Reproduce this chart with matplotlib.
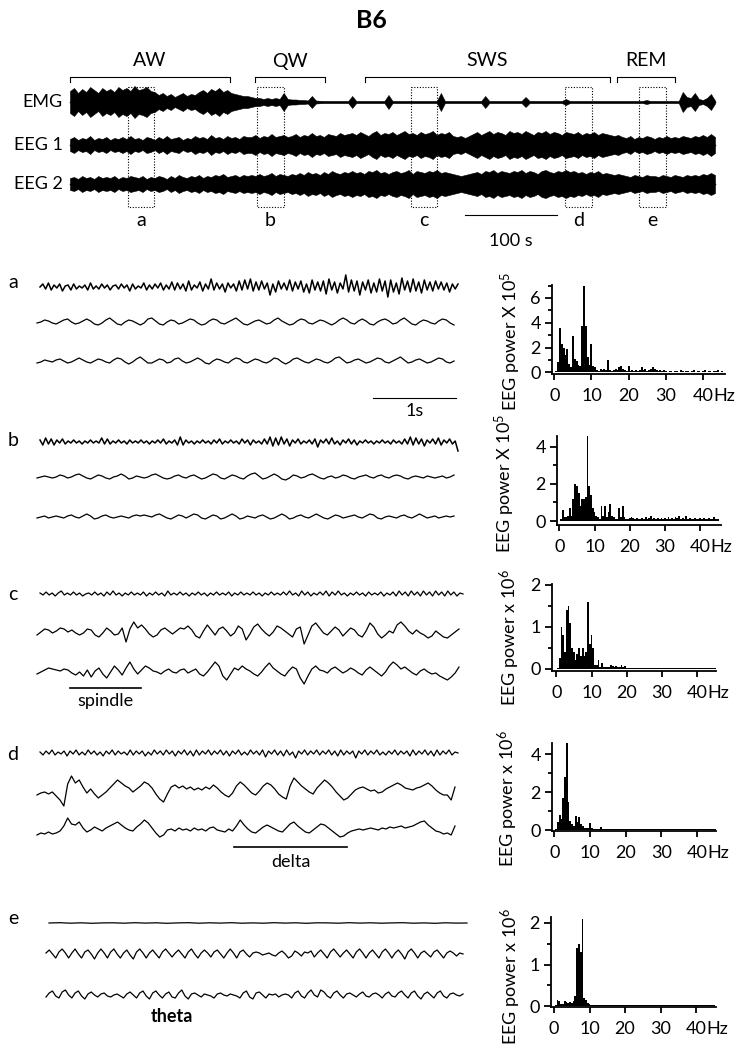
import numpy as np
import matplotlib
matplotlib.use("Agg")
import matplotlib.pyplot as plt
from matplotlib.patches import Rectangle

plt.rcParams['font.family'] = ['Lato', 'DejaVu Sans']
plt.rcParams['mathtext.fontset'] = 'custom'
plt.rcParams['mathtext.rm'] = 'Lato'
plt.rcParams['mathtext.it'] = 'Lato:italic'
plt.rcParams['mathtext.bf'] = 'Lato:bold'

# ---------------- data ----------------
TITLE = "B6"
STATE_LABELS = ["AW", "QW", "SWS", "REM"]
STATE_START_S = [0.0, 200.8, 320.2, 593.7]
STATE_END_S = [173.6, 276.8, 586.1, 656.6]
EPOCH_LABELS = ["a", "b", "c", "d", "e"]
EPOCH_START_S = [62.9, 203.0, 370.1, 537.2, 617.5]
EPOCH_END_S = [91.2, 232.3, 398.3, 566.5, 646.8]
CHANNELS = ["EMG", "EEG 1", "EEG 2"]
OVERVIEW_DURATION_S = 700.0

# overview envelopes (half amplitude, px-scaled units), one value every ~4.4 s
ov_emg = [11,14,9,13,10,15,12,9,14,11,
          13,10,15,12,14,11,16,12,13,15,11,10,
          7,9,6,8,5,7,9,6,8,7,
          10,12,9,13,11,14,10,12,9,
          8,7,6,6,5,4,
          4,3,4,3,4,3,9,
          3,2.5,2.5,2,2,1.5,
          6,
          1.5,1.2,1,1,1,1,1,1,1,
          6,
          1,1,1,1,1,1,1,1,
          7,
          1,1,1,1,1,1,1,1,1,1,1,1,
          9,
          1,1,1,1,1,1,1,1,1,1,
          6,
          1,1,1,1,1,1,1,1,1,
          5,
          1,1,1,1,1,1,1,1,1,
          3,
          1,1,1,1,1,1,1,1,1,1,1,1,1,1,1,1,1,1,1,
          2,
          1,1,1,1,1,1,1,1,
          10,5,4,9,3,2,4,8,1.5]
ov_eeg1 = [6,8,5,7,6,9,5,7,6,8,
           5,7,6,8,6,9,6,7,5,8,
           7,5,8,6,9,6,7,8,5,7,
           6,9,7,8,6,10,7,8,6,9,
           7,8,6,9,8,
           8,10,7,9,8,11,8,9,10,8,
           9,11,8,10,9,12,9,10,8,11,10,9,12,10,11,
           12,10,13,11,9,12,14,10,12,11,
           13,10,12,14,11,12,10,13,11,12,14,10,12,11,13,
           9,8,9,7,9,
           11,13,10,12,14,11,13,12,10,14,
           12,13,11,14,12,10,13,12,14,11,13,12,10,13,12,
           11,13,10,12,11,13,10,12,11,10,9,10,
           8,7,9,6,8,7,9,8,6,8,7,9,7,8,
           7,9,8,7,9,8,10,8,11,8]
ov_eeg2 = [6,7,5,8,6,7,5,8,6,7,
           6,8,5,7,6,8,7,6,8,5,
           7,6,8,7,5,8,6,9,7,6,
           8,7,9,6,8,7,9,8,10,7,
           8,9,7,9,8,
           9,8,10,8,9,11,8,10,9,8,
           10,9,11,9,12,10,11,9,12,10,13,11,10,12,11,
           13,11,12,10,13,12,14,11,12,10,
           12,13,11,12,14,10,13,12,11,13,12,14,11,12,11,
           10,9,8,9,10,
           11,12,10,13,12,14,11,13,12,11,
           13,12,14,11,13,12,10,13,14,12,11,13,12,14,12,
           13,11,12,10,12,11,13,10,11,10,9,10,
           9,8,7,9,8,7,9,8,8,7,9,8,7,9,
           8,7,9,8,9,8,10,9,11,9]

# detail traces (5 s epochs)
a_emg = [0,3,-2,4,-3,2,-1,3,-4,1, 2,-3,3,-2,1,-1,2,-3,4,-2,
         1,-2,3,-1,2,-3,1,2,-2,3, -1,2,-4,3,-2,1,-1,4,-3,2,
         -2,3,-1,4,-3,2,-2,5,-3,4, -2,3,-4,6,-3,2,-1,5,-4,3,
         -2,8,-3,4,-2,3,-5,4,-1,3, -4,6,-3,7,-2,8,-4,5,-3,6,
         -2,4,-8,3,-5,6,-2,4,-3,7, -4,5,-2,6,-5,3,-6,7,-3,5,
         -4,6,-7,8,-3,5,-6,4,-2,12, -5,7,-4,6,-8,5,-3,7,-6,4,
         -5,8,-4,6,-10,7,-5,4,-7,9, -3,6,-5,8,-4,5,-6,7,-3,5,
         -4,6,-2,5,-3,4,-5,3,-2,3]
a_eeg1 = [-1,0,2,1,-1,-2,0,2,3,0, -2,-1,1,3,1,-2,-3,-1,2,4, 1,-2,-3,0,2,1,-1,-3,-1,3,
          4,1,-2,-3,0,2,1,-2,-1,1, 3,2,-1,-3,-2,1,3,2,-1,-2, 0,2,4,1,-2,-3,-1,1,2,0,
          -2,-1,2,4,1,-1,-3,-2,1,3, 2,-1,-2,0,2,1,-1,-3,-1,2, 4,2,-1,-2,1,3,1,-2,-3,0,
          2,3,1,-2,-1,2,4,1,-2,-3, 0,2,1,-1,-2,1,3,2,-1,-3]
a_eeg2 = [-2,-1,1,0,-1,1,2,0,-2,-1, 1,3,1,-1,-2,0,2,1,-1,-2, 1,3,2,-1,-3,-1,2,4,1,-2,
          -2,0,2,1,-2,-1,2,3,0,-2, -1,1,3,1,-2,-3,0,2,1,-1, -2,1,3,2,-1,-2,0,2,1,-1,
          -2,0,3,2,-1,-3,-1,2,3,1, -1,-2,0,2,1,-1,-2,0,3,4, 1,-2,-1,1,2,0,-2,-1,1,3,
          2,-1,-2,0,2,4,1,-2,-1,1, 2,0,-2,-1,1,3,2,-1,-2,0]
b_emg = [2,-3,4,-2,3,-3,2,-1,3,-2, 1,-1,2,-1,1,-2,1,-1,2,-1,
         1,-1,4,-2,3,-2,1,-1,2,-1, 1,-2,2,-1,1,-1,2,-1,1,-2,
         1,-1,2,-1,3,-2,1,-1,2,-3, 5,-3,2,-1,1,-2,1,-1,2,-1,
         1,-2,2,-1,3,-2,1,-1,2,-1, 1,-2,3,-1,2,-3,2,-1,1,-2,
         3,-2,5,-4,4,-3,5,-2,3,-4, 2,-1,3,-2,1,-1,2,-2,3,-5,
         2,-1,3,-2,4,-2,1,-3,2,-1, 3,-2,2,-3,1,-1,2,-1,1,-2,
         1,-1,2,-1,1,-2,2,-1,1,-2, 3,-2,5,-3,4,-2,3,-4,2,-1,
         3,-2,4,-3,2,-1,3,-2,1,-9]
b_eeg1 = [-1,0,1,0,-1,0,2,1,-1,0, 2,3,1,-1,-2,0,2,1,-1,-2, 0,1,3,1,-2,-1,1,0,-1,0,
          2,3,1,-1,-2,-1,1,2,0,-1, 1,2,0,-2,-1,1,3,2,-1,-2, 0,2,1,-1,-2,1,3,4,1,-2,
          -1,1,3,1,-2,-3,-1,2,1,-1, 0,2,3,1,-1,-2,0,1,-1,0, 2,1,-1,-2,0,1,2,0,-1,1,
          2,0,-1,1,2,1,-1,-2,0,1, 0,-1,1,0,-1,0,1,-1,0,2]
b_eeg2 = [-1,0,1,-1,0,1,0,-1,1,2, 0,-1,1,3,1,-2,-1,1,2,0, -1,0,1,0,-1,1,2,1,2,1,
          0,2,3,1,-1,-2,0,2,1,-1, 1,3,2,-1,-2,0,2,1,-2,-1, 1,3,1,-2,-1,1,0,-1,1,2,
          0,-2,-1,1,3,1,-2,-1,1,2, 0,-1,1,3,1,-1,-2,0,2,1, -1,0,1,2,0,-1,1,3,2,-1,
          -2,0,1,0,-1,1,2,0,-1,1, 3,1,-1,0,1,-1,0,1,0,1]
c_emg = [1,-1,2,-1,1,-2,1,3,-1,1, -1,2,-1,1,-2,0,1,-1,2,-1, 1,-2,2,-1,3,-1,1,-2,1,-1,
         2,-1,1,-1,2,-2,1,-1,2,-1, 1,-2,3,-1,1,-1,2,-1,1,-2, 1,-1,2,-1,1,-2,1,-1,2,-1,
         1,-1,2,-2,1,-1,2,-1,1,-1, 2,-1,1,-2,1,-1,2,-1,1,-1, 2,-1,3,-1,1,-2,3,-1,2,-2,
         1,-1,2,-1,3,-2,2,-1,3,-1, 1,-2,1,-1,2,-1,1,-2,2,-1, 1,-1,2,-2,1,-1,2,-2,3,-1,
         2,-2,3,-1,2,-2,3,-1,2,-2, 3,-1,2,-2,3,-1,2,-2,1,0]
c_eeg1 = [-3,0,3,2,-1,1,4,3,0,2,-1,
          -3,-1,3,2,-3,-5,-1,4,1,-3,-2,4,
          -10,3,10,4,
          7,3,-2,-5,-3,2,4,1,-2,1,4,3,6,2,
          -4,-6,1,7,2,-3,3,5,1,-4,-1,6,3,-8,-2,
          5,8,3,-1,-4,0,6,4,1,-2,-5,3,5,-12,-3,
          6,9,4,-1,-3,1,5,2,-4,0,4,2,-3,-5,1,
          9,5,-2,-6,-3,1,-1,7,10,6,1,-2,2,-1,-3,
          -6,-4,1,-2,-5,-6,-3,0,3]
c_eeg2 = [-2,0,2,4,3,2,1,3,2,-1,-3,
          0,-4,2,-5,1,4,-2,-6,0,6,2,-3,
          4,10,3,-2,
          2,6,4,1,0,-2,1,3,0,-1,2,3,-1,1,
          3,-2,-4,0,5,10,6,-4,-8,-2,4,2,6,3,1,
          -2,-4,0,5,9,4,1,-2,-4,1,5,3,-6,-12,-4,
          3,6,2,1,-1,3,5,2,-1,1,4,2,-1,-3,2,
          5,2,-1,-4,0,6,10,7,3,5,2,-1,-3,1,3,
          0,-2,-1,-4,-6,-8,-5,-1,5]
d_emg = [1,-2,2,-1,3,-2,1,-1,2,-3, 2,-1,3,-2,1,-2,3,-1,2,-2, 1,-3,2,-1,3,-2,2,-1,1,-2,
         3,-2,2,-1,2,-3,1,-2,3,-1, 2,-2,3,-1,2,-3,2,-1,3,-2, 2,-3,3,-2,2,-1,3,-2,2,-1,
         3,-2,2,-3,2,-1,3,-2,1,-2, 3,-1,2,-2,3,-4,2,-1,3,-2, 2,-3,3,-2,1,-5,2,-1,3,-2,
         2,-1,3,-2,2,-1,3,-2,2,-3, 3,-2,2,-1,2,-5,2,-1,3,-2, 2,-1,3,-2,1,-2,2,-1,3,-2,
         2,-1,2,-3,3,-2,2,-1,3,-2, 2,-3,3,-2,2,-1,3,-2,1,0]
d_eeg1 = [-5,-3,-2,-4,-2,-6,-10,-16,6,14, 7,10,3,-3,1,-4,-8,-5,-2,2,
          6,10,7,4,2,-2,1,4,8,6, 2,-4,-9,-12,-4,3,5,2,4,1,
          3,0,2,0,3,1,5,2,-2,-5, -7,-3,4,8,5,1,-3,-5,-1,4,
          7,5,1,-4,-7,-9,4,12,8,4, 1,-2,-4,2,6,10,7,3,-2,-6,
          -10,-8,-4,0,2,3,1,-1,0,-3, -2,1,3,5,7,5,2,1,0,2,
          3,5,7,4,0,-3,-5,-5,-10,3]
d_eeg2 = [-5,-3,-4,-2,-4,-3,-1,4,12,6, 5,8,2,-2,0,3,1,-1,2,4,
          6,8,5,2,0,-1,3,6,10,7, 2,-3,-7,-5,0,1,-1,2,0,1,
          -1,2,0,1,-1,2,3,0,-1,-2, 1,-1,4,10,5,1,-2,-3,0,3,
          5,3,1,-1,-2,2,6,8,4,1, -2,-3,0,3,6,5,2,-1,-4,-7,
          -6,-3,-1,0,1,0,1,2,1,0, 2,1,3,2,3,4,2,3,4,6,
          8,9,5,2,-1,-2,-4,-3,-5,4]
e_emg = [0,0.3,-0.2,0.2,-0.3,0.1,0.2,-0.2,0.3,-0.1, 0.2,-0.3,0.1,0.3,-0.2,0.2,-0.1,0.3,-0.2,0.1,
         -0.2,0.3,-0.1,0.2,-0.3,0.2,0.1,-0.2,0.3,-0.1, 0.2,-0.2,0.1,0.3,-0.2,0.1,-0.3,0.2,-0.1,0]
e_eeg1 = [1,4,0,-4, 2,5,1,-4, 1,5,0,-4, 2,4,0,-5, 1,5,1,-4,
          2,5,0,-4, 1,4,-1,-5, 2,5,1,-4, 1,4,0,-4, 2,5,1,-3,
          1,4,0,-4, 2,5,0,-4, 1,4,1,-3, 2,4,0,-4, 1,5,1,-4,
          2,4,0,-3, 1,2,1,-1, 0,1,-1,-2, 1,3,0,-4, -2,3,1,-2,
          2,1,3,-3, 1,4,0,-4, 2,5,1,-3, 1,4,0,-4, 2,5,1,-4,
          1,4,0,-4, 2,5,1,-4, 1,4,0,-5, 2,5,1,-4, 1,3,0,-3,
          2,4,0,-4, 1,3,1,-2, 1,0]
e_eeg2 = [-2,2,4,-1, -3,3,5,0, -3,2,4,-1, -4,1,3,0, -2,1,2,-1,
          -2,0,1,-1, -3,1,3,0, -3,2,4,-1, -4,2,4,0, -3,1,3,-2,
          -3,2,5,-1, -4,1,2,0, -2,1,0,-1, -3,1,2,0, -1,1,0,-1,
          -3,2,4,-2, -4,2,3,0, -3,1,0,1, -2,0,1,0, -3,2,4,-1,
          -3,2,5,0, -2,5,3,-1, -3,2,4,0, -3,1,2,0, -2,1,3,-1,
          -2,1,2,0, -3,1,3,-1, -2,2,4,0, -3,2,4,-1, -4,1,3,0,
          -3,2,4,-1, -3,1,2,0, -1,1]

# power spectra, 0.5 Hz bins from 0.5 to 45 Hz
SPEC_FREQ_HZ = np.arange(1, 91) * 0.5
spec_a = [0.1,0.8,3.6,2.3,2.0,1.4,1.9,0.7,0.4,2.9,
          1.1,0.9,0.6,0.5,3.7,7.0,3.7,1.2,0.6,2.3,
          0.5,0.4,0.2,0.1,0.3,0.2,0.3,0.2,1.0,0.2,
          0.1,0.2,0.3,0.2,0.4,0.5,0.3,0.2,0.1,0.5,
          0.1,0.2,0.1,0.2,0.1,0.2,0.4,0.2,0.3,0.1,
          0.2,0.3,0.4,0.3,0.2,0.1,0.15,0.1,0.2,0.1,
          0.05,0.1,0.1,0.05,0.1,0.1,0.05,0.2,0.1,0.05,
          0.1,0.1,0.05,0.1,0.2,0.05,0.1,0.1,0.05,0.1,
          0.2,0.05,0.1,0.1,0.05,0.1,0.1,0.15,0.05,0.1]
spec_b = [0.1,0.6,0.2,0.2,0.3,0.7,0.3,1.2,2.0,1.9,
          1.5,0.8,1.2,1.2,1.3,4.6,1.9,1.4,0.7,0.5,
          0.3,0.2,0.1,0.8,0.3,0.8,0.2,0.5,0.9,0.3,
          0.2,0.1,0.1,0.7,0.2,0.8,0.2,0.1,0.1,0.15,
          0.2,0.15,0.1,0.15,0.1,0.1,0.15,0.1,0.2,0.1,
          0.15,0.3,0.1,0.15,0.1,0.15,0.1,0.15,0.1,0.15,
          0.1,0.2,0.1,0.15,0.1,0.2,0.15,0.3,0.1,0.15,
          0.1,0.3,0.1,0.15,0.1,0.1,0.15,0.1,0.1,0.15,
          0.1,0.15,0.1,0.1,0.15,0.1,0.1,0.2,0.1,0.1]
spec_c = [0.02,0.25,1.0,0.8,0.4,1.4,1.5,1.1,0.5,0.4,
          0.2,0.35,0.5,0.3,0.5,0.3,0.4,1.6,0.6,0.8,
          0.5,0.1,0.1,0.2,0.05,0.15,0.05,0.05,0.04,0.05,
          0.1,0.08,0.05,0.08,0.04,0.05,0.1,0.05,0.08,0.03,
          0.02,0.03,0.02,0.02,0.03,0.02,0.02,0.03,0.02,0.02,
          0.03,0.02,0.02,0.03,0.02,0.02,0.03,0.02,0.02,0.03,
          0.02,0.02,0.03,0.02,0.02,0.03,0.02,0.02,0.03,0.02,
          0.02,0.03,0.02,0.02,0.03,0.02,0.02,0.03,0.02,0.02,
          0.03,0.02,0.02,0.03,0.02,0.02,0.03,0.02,0.02,0.03]
spec_d = [0.05,0.4,0.8,0.6,1.7,2.8,4.6,1.5,0.5,0.3,
          0.2,0.75,0.4,0.7,0.3,0.2,0.1,0.1,0.1,0.35,
          0.1,0.05,0.05,0.05,0.05,0.15,0.05,0.05,0.04,0.05,
          0.05,0.04,0.03,0.03,0.04,0.03,0.03,0.03,0.03,0.03,
          0.03,0.03,0.03,0.03,0.03,0.03,0.03,0.03,0.03,0.03,
          0.03,0.03,0.03,0.03,0.03,0.03,0.03,0.03,0.03,0.03,
          0.03,0.03,0.03,0.03,0.03,0.03,0.03,0.03,0.03,0.03,
          0.03,0.03,0.03,0.03,0.03,0.03,0.03,0.03,0.03,0.03,
          0.03,0.03,0.03,0.03,0.03,0.03,0.03,0.03,0.03,0.03]
spec_e = [0.02,0.15,0.12,0.05,0.05,0.12,0.1,0.08,0.1,0.08,
          0.12,0.25,1.4,1.5,1.3,2.1,0.2,0.15,0.08,0.05,
          0.02,0.02,0.02,0.02,0.02,0.02,0.02,0.02,0.02,0.02,
          0.02,0.02,0.02,0.02,0.02,0.02,0.02,0.02,0.02,0.02,
          0.02,0.02,0.02,0.02,0.02,0.02,0.02,0.02,0.02,0.02,
          0.02,0.02,0.02,0.02,0.02,0.02,0.02,0.02,0.02,0.02,
          0.02,0.02,0.02,0.02,0.02,0.02,0.02,0.02,0.02,0.02,
          0.02,0.02,0.02,0.02,0.02,0.02,0.02,0.02,0.02,0.02,
          0.02,0.02,0.02,0.02,0.02,0.02,0.02,0.02,0.02,0.02]
SPEC_YLABELS = [r"EEG power X 10$^{\mathrm{5}}$", r"EEG power X 10$^{\mathrm{5}}$",
                r"EEG power x 10$^{\mathrm{6}}$", r"EEG power x 10$^{\mathrm{6}}$",
                r"EEG power x 10$^{\mathrm{6}}$"]
X_TICKS = [0, 10, 20, 30, 40]
X_TICKLABELS = ["0", "10", "20", "30", "40"]

# ---------------- layout ----------------
W, H = 742, 1050
fig = plt.figure(figsize=(W / 100, H / 100), dpi=100)


def rect(x0, y0, x1, y1):
    return [x0 / W, 1 - y1 / H, (x1 - x0) / W, (y1 - y0) / H]


cv = fig.add_axes([0, 0, 1, 1])
cv.set_xlim(0, W)
cv.set_ylim(H, 0)
cv.axis('off')

cv.text(371, 20, TITLE, ha='center', va='center', fontsize=18, fontweight='bold')

# ---- overview ----
OV_X0, OV_X1 = 70, 715
s_per_px = OVERVIEW_DURATION_S / (OV_X1 - OV_X0)
ov = fig.add_axes(rect(0, 40, W, 250))
ov.set_xlim(-OV_X0 * s_per_px, (W - OV_X0) * s_per_px)
ov.set_ylim(250, 40)
ov.axis('off')

ov_centers = [102, 145, 184]
for env, yc in zip([ov_emg, ov_eeg1, ov_eeg2], ov_centers):
    env = np.asarray(env, dtype=float)
    t = np.linspace(0, OVERVIEW_DURATION_S, len(env))
    ov.fill_between(t, yc - env, yc + env, color='black', lw=0.4)
    ov.plot(t, np.full_like(t, yc), color='black', lw=1.0)

for lab, s, e in zip(STATE_LABELS, STATE_START_S, STATE_END_S):
    ov.plot([s, s, e, e], [82, 77, 77, 82], color='black', lw=0.8)
    ov.text((s + e) / 2, 61, lab, ha='center', va='center', fontsize=14)

for lab, s, e in zip(EPOCH_LABELS, EPOCH_START_S, EPOCH_END_S):
    ov.add_patch(Rectangle((s, 87), e - s, 120, fill=False, ls=(0, (1, 1.5)),
                           lw=0.8, ec='black'))
    ov.text((s + e) / 2, 221, lab, ha='center', va='center', fontsize=14)

sb0 = (465 - OV_X0) * s_per_px
ov.plot([sb0, sb0 + 100], [215, 215], color='black', lw=0.8)
ov.text(sb0 + 50, 241, "100 s", ha='center', va='center', fontsize=13)

for ch, yc in zip(CHANNELS, ov_centers):
    cv.text(63, yc, ch, ha='right', va='center', fontsize=13)

# ---- detail traces ----
PX_PER_S = 83.4
DX0 = 40
dt = fig.add_axes(rect(0, 250, 480, 1045))
dt.set_xlim(-DX0 / PX_PER_S, (480 - DX0) / PX_PER_S)
dt.set_ylim(1045, 250)
dt.axis('off')

panels = [
    ("a", 283, [(a_emg, 40, 418, 287, 1.1), (a_eeg1, 37, 417, 322, 0.9), (a_eeg2, 37, 417, 361, 0.9)]),
    ("b", 440, [(b_emg, 40, 418, 442, 1.1), (b_eeg1, 37, 417, 477, 0.9), (b_eeg2, 37, 417, 517, 0.9)]),
    ("c", 595, [(c_emg, 40, 423, 594, 0.9), (c_eeg1, 37, 422, 632, 0.9), (c_eeg2, 37, 422, 672, 0.9)]),
    ("d", 755, [(d_emg, 40, 418, 753, 0.9), (d_eeg1, 37, 418, 790, 0.9), (d_eeg2, 37, 418, 830, 0.9)]),
    ("e", 918, [(e_emg, 49, 418, 923, 0.9), (e_eeg1, 46, 417, 954, 0.9), (e_eeg2, 46, 417, 995, 0.9)]),
]
for lab, ly, traces in panels:
    cv.text(13, ly, lab, ha='center', va='center', fontsize=14)
    for vals, x0, length, yc, lw in traces:
        vals = np.asarray(vals, dtype=float)
        t = (x0 - DX0) / PX_PER_S + np.linspace(0, length / PX_PER_S, len(vals))
        dt.plot(t, yc - vals, color='black', lw=lw)


def tpx(px):
    return (px - DX0) / PX_PER_S


dt.plot([tpx(373), tpx(373) + 1.0], [398, 398], color='black', lw=0.8)
dt.text(tpx(373) + 0.5, 411, "1s", ha='center', va='center', fontsize=13)
dt.plot([tpx(70), tpx(141)], [688, 688], color='black', lw=1.2)
dt.text((tpx(70) + tpx(141)) / 2, 701, "spindle", ha='center', va='center', fontsize=13)
dt.plot([tpx(234), tpx(347)], [847, 847], color='black', lw=1.2)
dt.text((tpx(234) + tpx(347)) / 2, 862, "delta", ha='center', va='center', fontsize=13)
dt.text(tpx(172), 1017, "theta", ha='center', va='center', fontsize=13, fontweight='bold')

# ---- spectra ----
spec_layout = [
    # box px (l, t, r, b), xlim, ylim, major yticks, minor yticks, ylabel center px
    ((552, 285, 725, 374), (-0.6, 45.9), (-0.14, 7.05), [0, 2, 4, 6], [1, 3, 5, 7], (511, 341)),
    ((557, 436, 721, 525), (-0.65, 45.9), (-0.21, 4.57), [0, 2, 4], [1, 3], (505, 483)),
    ((552, 584, 716, 671), (-1.2, 45.3), (-0.05, 2.02), [0, 1, 2], [0.5, 1.5], (510, 637)),
    ((552, 743, 716, 831), (-0.65, 45.4), (-0.05, 4.6), [0, 2, 4], [1, 3], (508, 798)),
    ((551, 917, 716, 1007), (-0.85, 45.6), (-0.02, 2.14), [0, 1, 2], [0.5, 1.5], (511, 976)),
]
TICK_LEN, TICK_PAD = 4, 6
for vals, ylab, (box, xl, yl, yt, ymt, lab_xy) in zip(
        [spec_a, spec_b, spec_c, spec_d, spec_e], SPEC_YLABELS, spec_layout):
    ax = fig.add_axes(rect(*box))
    ax.bar(SPEC_FREQ_HZ, vals, width=0.52, color='black', lw=0)
    ax.set_xlim(*xl)
    ax.set_ylim(*yl)
    for sp in ['top', 'right']:
        ax.spines[sp].set_visible(False)
    for sp in ['left', 'bottom']:
        ax.spines[sp].set_linewidth(1.3)
    ax.set_xticks(X_TICKS)
    ax.set_xticklabels(X_TICKLABELS)
    ax.set_yticks(yt)
    ax.set_yticks(ymt, minor=True)
    ax.set_yticklabels([f"{v:g}" for v in yt])
    ax.tick_params(axis='x', direction='out', length=TICK_LEN, width=1.3, pad=TICK_PAD, labelsize=13)
    ax.tick_params(axis='y', which='major', direction='out', length=5, width=1.3, pad=3, labelsize=13)
    ax.tick_params(axis='y', which='minor', direction='out', length=3, width=1.3)
    ax.patch.set_alpha(0)
    ax.annotate("Hz", xy=(40, 0), xycoords=('data', 'axes fraction'),
                xytext=(7.6, -(TICK_LEN + TICK_PAD)), textcoords='offset points',
                ha='left', va='top', fontsize=13)
    cv.text(lab_xy[0], lab_xy[1], ylab, rotation=90, ha='center', va='center', fontsize=13)

fig.savefig("out.png", dpi=100)
